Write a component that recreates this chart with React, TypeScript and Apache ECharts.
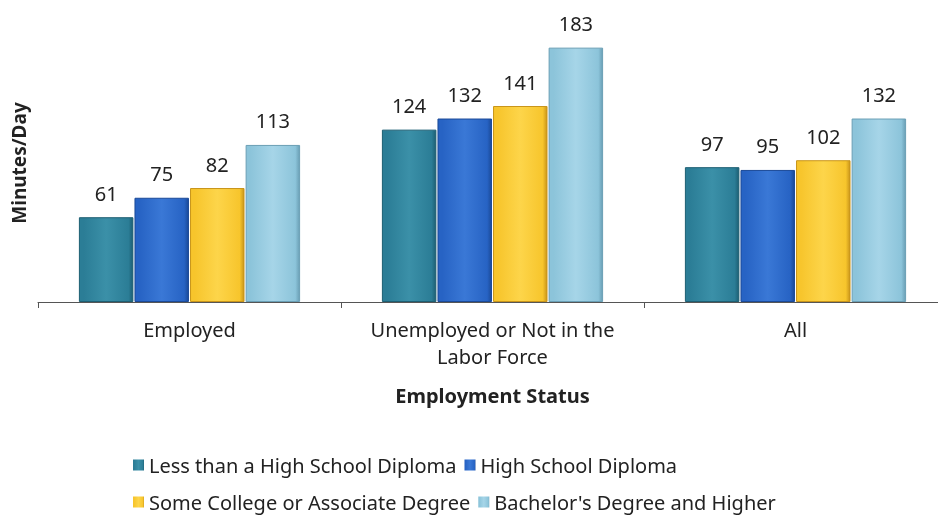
import React, { useEffect, useRef } from "react";
import * as echarts from "echarts";

const categories = ["Employed", "Unemployed or Not in the\nLabor Force", "All"];
const seriesNames = [
  "Less than a High School Diploma",
  "High School Diploma",
  "Some College or Associate Degree",
  "Bachelor's Degree and Higher",
];
const lessThanHS = [61, 124, 97];
const highSchool = [75, 132, 95];
const someCollege = [82, 141, 102];
const bachelors = [113, 183, 132];
const colors = [
  ["#3b90a8", "#2b7d96", "#1d5f73"],
  ["#3a78d6", "#2763c4", "#1b4a98"],
  ["#fdd54a", "#f7c52c", "#c9951a"],
  ["#a6d5e8", "#8cc4da", "#6a9fb5"],
];

const FONT = "'Noto Sans', sans-serif";

export default function App() {
  const ref = useRef<HTMLDivElement>(null);
  useEffect(() => {
    if (!ref.current) return;
    const chart = echarts.init(ref.current, undefined, { renderer: "svg" });
    const values = [lessThanHS, highSchool, someCollege, bachelors];
    const legendBase = {
      left: 128,
      itemWidth: 11,
      itemHeight: 11,
      itemGap: 8,
      icon: "rect",
      itemStyle: { borderWidth: 0 },
      textStyle: { fontSize: 20, color: "#222", fontFamily: FONT },
    };
    chart.setOption({
      animation: false,
      textStyle: { fontFamily: FONT },
      grid: { left: 38, width: 909, top: 24, height: 278 },
      legend: [
        { ...legendBase, data: seriesNames.slice(0, 2), top: 450 },
        { ...legendBase, data: seriesNames.slice(2, 4), top: 487 },
      ],
      xAxis: {
        type: "category",
        data: categories,
        name: "Employment Status",
        nameLocation: "middle",
        nameGap: 83,
        nameTextStyle: { fontSize: 20, fontWeight: "bold", color: "#222", fontFamily: FONT },
        axisLine: { lineStyle: { color: "#555", width: 1 } },
        axisTick: { show: true, interval: 0, length: 6, lineStyle: { color: "#555" } },
        axisLabel: {
          interval: 0,
          hideOverlap: false,
          fontSize: 20,
          color: "#222",
          margin: 14,
          lineHeight: 27,
          fontFamily: FONT,
        },
      },
      yAxis: {
        type: "value",
        min: 0,
        max: 200,
        name: "Minutes/Day",
        nameLocation: "middle",
        nameGap: 10,
        nameRotate: 90,
        nameTextStyle: { fontSize: 19, fontWeight: "bold", color: "#222", fontFamily: FONT },
        axisLine: { show: false },
        axisTick: { show: false },
        axisLabel: { show: false },
        splitLine: { show: false },
      },
      series: values.map((v, i) => ({
        type: "bar",
        name: seriesNames[i],
        data: v,
        barCategoryGap: "27%",
        barGap: "2%",
        itemStyle: {
          color: new echarts.graphic.LinearGradient(1, 0, 0, 0, [
            { offset: 0, color: colors[i][2] },
            { offset: 0.08, color: colors[i][1] },
            { offset: 0.5, color: colors[i][0] },
            { offset: 0.92, color: colors[i][1] },
            { offset: 1, color: colors[i][1] },
          ]),
          borderColor: colors[i][2],
          borderWidth: 1,
        },
        label: {
          show: true,
          position: "top",
          distance: 14,
          fontSize: 20,
          color: "#222",
          fontFamily: FONT,
        },
      })),
    });
    return () => chart.dispose();
  }, []);
  return (
    <div style={{ position: "fixed", left: 0, top: 0, width: 938, height: 517, overflow: "hidden" }}>
      <div ref={ref} style={{ width: 952, height: 517 }} />
    </div>
  );
}
